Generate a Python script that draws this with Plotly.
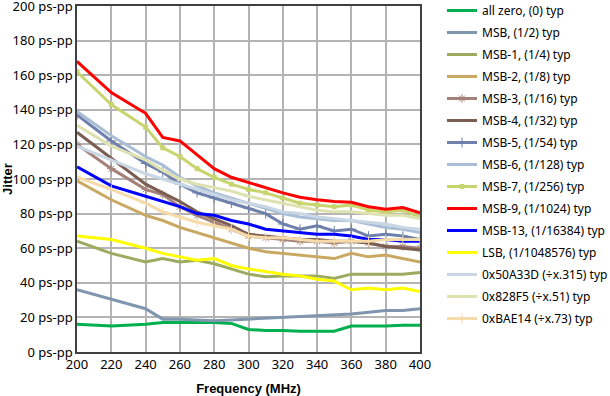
import plotly.graph_objects as go

freq = [200, 220, 240, 250, 260, 270, 280, 290, 300, 310, 320, 330, 340, 350, 360, 370, 380, 390, 400]

series_names = [
    "all zero, (0) typ", "MSB, (1/2) typ", "MSB-1, (1/4) typ", "MSB-2, (1/8) typ",
    "MSB-3, (1/16) typ", "MSB-4, (1/32) typ", "MSB-5, (1/54) typ", "MSB-6, (1/128) typ",
    "MSB-7, (1/256) typ", "MSB-9, (1/1024) typ", "MSB-13, (1/16384) typ",
    "LSB, (1/1048576) typ", "0x50A33D (÷x.315) typ", "0x828F5 (÷x.51) typ", "0xBAE14 (÷x.73) typ",
]

all_zero = [16, 15, 16, 17, 17, 17, 17, 16.5, 13, 12.5, 12.5, 12, 12, 12, 15, 15, 15, 15.5, 15.5]
msb = [36, 30.5, 25, 19, 19, 18.5, 18, 18.5, 19, 19.5, 20, 20.5, 21, 21.5, 22, 23, 24, 24, 25]
msb1 = [64, 57, 52, 54, 52, 53, 51, 48, 45, 43.5, 44, 44, 44, 42.5, 45, 45, 45, 45, 46]
msb2 = [99, 88, 79, 76, 72, 69, 66, 63, 60, 58, 57, 56, 55, 54, 57, 55, 56, 54, 52]
msb3 = [120, 106, 94, 91, 84, 79, 75, 71, 67, 66, 65, 64, 64, 63, 64, 63, 61, 61, 60]
msb4 = [127, 112, 97, 92, 87, 81, 77, 73, 68, 67, 66, 65, 65, 64, 64, 63, 61, 60, 59]
msb5 = [137, 122, 109, 104, 97, 92, 89, 86, 83, 80, 74, 71, 73, 70, 71, 67, 68, 67, 65]
msb6 = [139, 125, 113, 108, 101, 96, 92, 89, 86, 83, 80, 78, 77, 76, 76, 74, 72, 71, 69]
msb7 = [162, 143, 130, 118, 113, 106, 101, 97, 94, 92, 89, 86, 85, 84, 85, 82, 81, 82, 78]
msb9 = [168, 150, 138, 124, 122, 114, 106, 101, 98, 95, 92, 89.5, 88, 87, 86.5, 84, 82.5, 83.5, 80.5]
msb13 = [107, 96, 90, 87, 84, 80, 79, 76, 74, 71, 70, 69, 68, 68, 67, 65, 65, 64, 64]
lsb = [67, 65, 60, 57, 55, 53, 54, 50, 48, 46.5, 45, 44, 42, 41, 36, 37, 36, 37, 35]
hex_50a33d = [119, 111, 103, 100, 97, 94, 91, 88, 86, 84, 81, 80, 78, 77, 76, 75, 74, 72, 71]
hex_828f5 = [131, 119, 111, 105, 100, 97, 95, 93, 90, 88, 86, 84, 82, 81, 81, 80, 79, 79, 77]
hex_bae14 = [101, 94, 86, 81, 78, 75, 73, 71, 67, 66, 66, 65, 64, 64, 64, 64, 65, 65, 65]

y_tick_vals = [0, 20, 40, 60, 80, 100, 120, 140, 160, 180, 200]
y_tick_text = ["0 ps-pp", "20 ps-pp", "40 ps-pp", "60 ps-pp", "80 ps-pp", "100 ps-pp",
               "120 ps-pp", "140 ps-pp", "160 ps-pp", "180 ps-pp", "200 ps-pp"]
x_tick_vals = [200, 220, 240, 260, 280, 300, 320, 340, 360, 380, 400]

data = [all_zero, msb, msb1, msb2, msb3, msb4, msb5, msb6, msb7, msb9, msb13, lsb,
        hex_50a33d, hex_828f5, hex_bae14]
colors = ["#00b050", "#7f96ae", "#9dab60", "#c9a862", "#a4827a", "#7b5d52", "#6f80ad",
          "#a9bdd6", "#c8d56e", "#ff0000", "#0000ff", "#ffff00", "#c9d6e4", "#dee1b0", "#f6dbaa"]
markers = {4: "asterisk-open", 6: "cross-thin-open", 8: "square", 14: "cross-thin-open"}

fig = go.Figure()
for i, (name, ys, c) in enumerate(zip(series_names, data, colors)):
    if i in markers:
        sym = markers[i]
        mk = dict(symbol=sym, size=7 if sym != "square" else 4, color=c,
                  line=dict(color=c, width=1))
        mode = "lines+markers"
    else:
        mk = None
        mode = "lines"
    fig.add_trace(go.Scatter(x=freq, y=ys, name=name, mode=mode,
                             line=dict(color=c, width=3), marker=mk,
                             legendgroup=str(i)))

fig.update_layout(
    width=610, height=396,
    margin=dict(l=77, r=190, t=6, b=44, autoexpand=False),
    plot_bgcolor="white", paper_bgcolor="white",
    font=dict(family="Noto Sans", size=12, color="#000"),
    showlegend=True,
    legend=dict(x=(442 - 77) / 343, y=(352 + 4) / 346, xref="paper", yref="paper",
                xanchor="left", yanchor="top", tracegroupgap=3, maxheight=420,
                font=dict(family="Noto Sans", size=12), bgcolor="rgba(0,0,0,0)"),
    xaxis=dict(range=[200, 400], tickvals=x_tick_vals, showgrid=True,
               gridcolor="#b4b4b4", gridwidth=1.5, showline=True, mirror=True,
               linecolor="#404040", linewidth=1.5, ticks="", zeroline=False,
               tickfont=dict(size=13), ticklabeloverflow="allow",
               title=dict(text="<b>Frequency (MHz)</b>", standoff=12,
                          font=dict(family="Liberation Sans", size=13))),
    yaxis=dict(range=[0, 200], tickvals=y_tick_vals, ticktext=y_tick_text, showgrid=True,
               gridcolor="#b4b4b4", gridwidth=1.5, showline=True, mirror=True,
               linecolor="#404040", linewidth=1.5, ticks="", zeroline=False,
               tickfont=dict(size=13), ticklabeloverflow="allow",
               title=dict(text="<b>Jitter</b>", standoff=4,
                          font=dict(family="Liberation Sans", size=13))),
)

fig.write_html("out.html", config={"displayModeBar": False},
               post_script="document.body.style.margin='0';")
